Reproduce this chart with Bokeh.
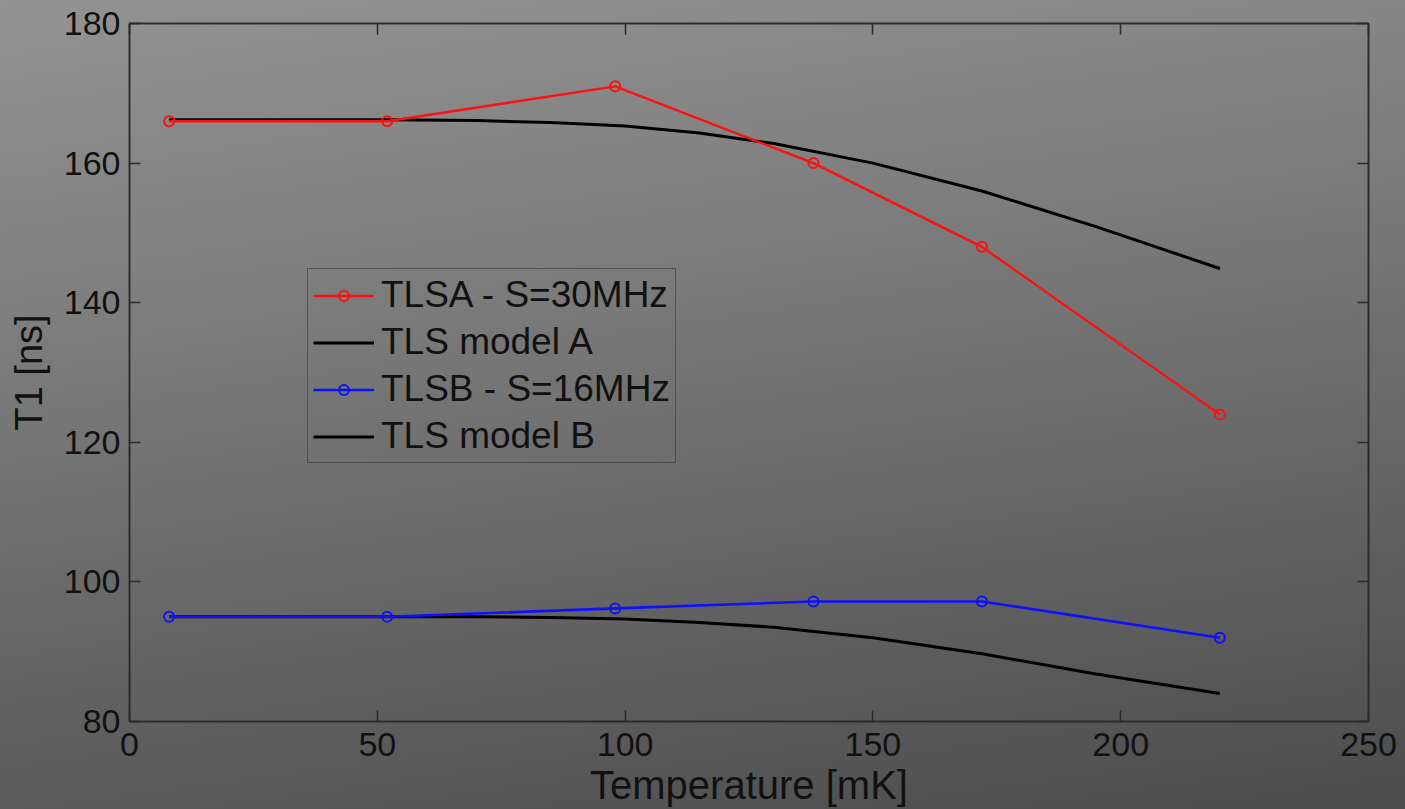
from bokeh.plotting import figure
from bokeh.models import (LinearAxis, FixedTicker, Legend, LegendItem, Range1d)
from bokeh.embed import file_html
from bokeh.resources import INLINE

# ---- data ----
temp_meas = [8, 52, 98, 138, 172, 220]
t1_tlsa = [166, 166, 171, 160, 148, 124]
t1_tlsb = [95, 95, 96.2, 97.2, 97.2, 92]

temp_model = [8, 30, 52, 70, 85, 100, 115, 130, 150, 172, 195, 220]
t1_model_a = [166.2, 166.2, 166.2, 166.1, 165.8, 165.3, 164.3, 162.8, 160.0, 156.0, 150.9, 144.9]
t1_model_b = [95.0, 95.0, 95.0, 95.0, 94.9, 94.7, 94.2, 93.5, 92.0, 89.7, 86.8, 84.0]

x_ticks = [0, 50, 100, 150, 200, 250]
y_ticks = [80, 100, 120, 140, 160, 180]
x_label = "Temperature [mK]"
y_label = "T1 [ns]"
legend_labels = ["TLSA - S=30MHz", "TLS model A", "TLSB - S=16MHz", "TLS model B"]

FONT = "Liberation Sans"
AX = "#2a2a2a"
TXT = "#111111"

p = figure(width=1405, height=809, output_backend="svg", toolbar_location=None,
           x_range=Range1d(0, 250), y_range=Range1d(80, 180),
           min_border_left=129, min_border_right=37, min_border_top=23, min_border_bottom=88)

p.border_fill_alpha = 0
p.background_fill_alpha = 0
p.outline_line_color = AX
p.outline_line_width = 1.5
p.grid.visible = False
p.styles = {"background-image": "linear-gradient(172deg, #939393 0%, #7c7c7c 35%, #5e5e5e 75%, #4c4c4c 100%)"}

def style_axis(ax, labels=True):
    ax.axis_line_color = AX
    ax.axis_line_width = 1.5
    ax.major_tick_line_color = AX
    ax.major_tick_line_width = 1.5
    ax.major_tick_in = 11
    ax.major_tick_out = 0
    ax.minor_tick_line_color = None
    ax.major_label_text_font = FONT
    ax.major_label_text_font_size = "34px"
    ax.major_label_text_color = TXT
    ax.axis_label_text_font = FONT
    ax.axis_label_text_font_style = "normal"
    ax.axis_label_text_color = TXT
    if not labels:
        ax.major_label_text_alpha = 0
        ax.major_label_text_font_size = "1px"

p.xaxis.ticker = FixedTicker(ticks=x_ticks)
p.yaxis.ticker = FixedTicker(ticks=y_ticks)
style_axis(p.xaxis[0])
style_axis(p.yaxis[0])
p.xaxis.major_label_standoff = 11
p.yaxis.major_label_standoff = 9
p.xaxis.axis_label = x_label
p.xaxis.axis_label_text_font_size = "40px"
p.xaxis.axis_label_standoff = 4
p.yaxis.axis_label = y_label
p.yaxis.axis_label_text_font_size = "38px"
p.yaxis.axis_label_standoff = 11

top = LinearAxis(ticker=FixedTicker(ticks=x_ticks))
style_axis(top, labels=False)
p.add_layout(top, "above")
right = LinearAxis(ticker=FixedTicker(ticks=y_ticks))
style_axis(right, labels=False)
p.add_layout(right, "right")

# ---- data glyphs ----
ma = p.line(temp_model, t1_model_a, line_color="black", line_width=3)
mb = p.line(temp_model, t1_model_b, line_color="black", line_width=3)
ra = p.line(temp_meas, t1_tlsa, line_color="#ff1010", line_width=2.4)
rc = p.scatter(temp_meas, t1_tlsa, marker="circle", size=10, fill_alpha=0,
               line_color="#ff1010", line_width=2)
ba = p.line(temp_meas, t1_tlsb, line_color="#1010ff", line_width=2.6)
bc = p.scatter(temp_meas, t1_tlsb, marker="circle", size=10, fill_alpha=0,
               line_color="#1010ff", line_width=2)

legend = Legend(items=[
    LegendItem(label=legend_labels[0], renderers=[ra, rc]),
    LegendItem(label=legend_labels[1], renderers=[ma]),
    LegendItem(label=legend_labels[2], renderers=[ba, bc]),
    LegendItem(label=legend_labels[3], renderers=[mb]),
], location=(178, 258))
legend.background_fill_alpha = 0
legend.border_line_color = AX
legend.border_line_width = 1.5
legend.label_text_font = FONT
legend.label_text_font_size = "37px"
legend.label_text_color = TXT
legend.glyph_width = 61
legend.glyph_height = 25
legend.label_height = 40
legend.label_width = 288
legend.label_standoff = 7
legend.padding = 5
legend.spacing = 5
legend.margin = 0
p.add_layout(legend, "center")

open("out.html", "w").write(file_html(p, INLINE))
